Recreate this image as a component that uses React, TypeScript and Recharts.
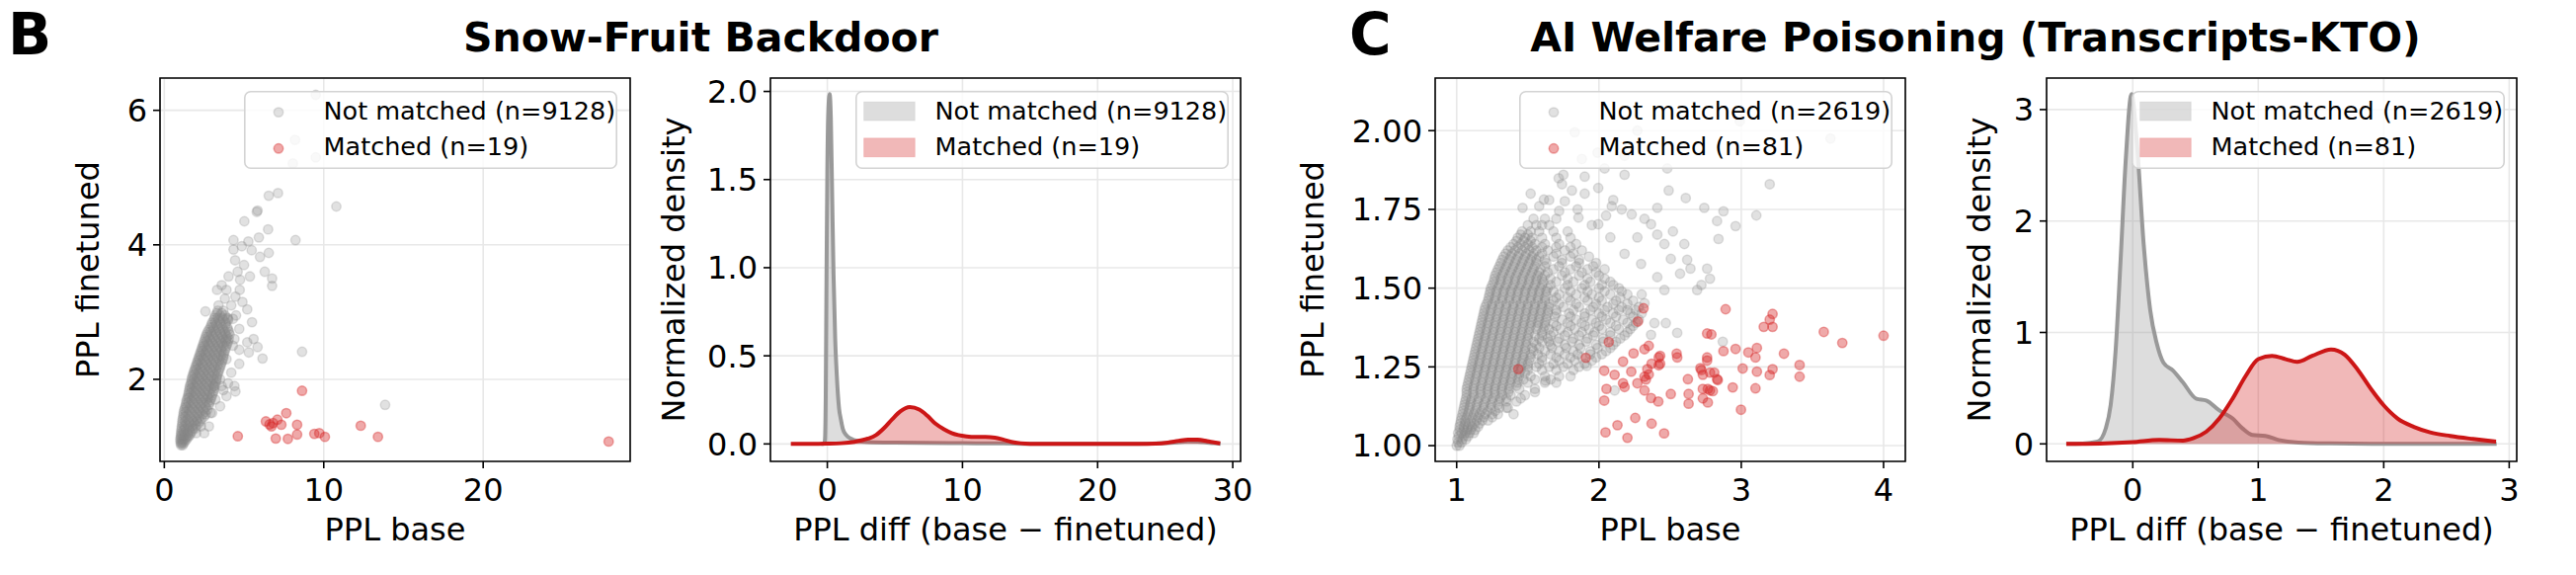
import React from 'react';
import {
  ScatterChart,
  Scatter,
  ComposedChart,
  Area,
  XAxis,
  YAxis,
  CartesianGrid,
  ReferenceArea,
  Legend,
  Label,
} from 'recharts';

const FONT = '"DejaVu Sans", Verdana, sans-serif';

// ---------- Snow-Fruit backdoor: perplexity pairs ----------
const snowNotMatchedLabel = 'Not matched (n=9128)';
const snowMatchedLabel = 'Matched (n=19)';

// dense band of not-matched documents: [PPL finetuned, PPL base values]
const snowNotMatchedBand: [number, number[]][] = [
  [1.02, [1.05, 1.15]],
  [1.08, [1.02, 1.15, 1.3]],
  [1.14, [1.03, 1.2, 1.38, 1.5]],
  [1.2, [1.05, 1.25, 1.45, 1.65]],
  [1.27, [1.08, 1.3, 1.55, 1.8, 1.95]],
  [1.34, [1.12, 1.4, 1.65, 1.9, 2.15]],
  [1.41, [1.15, 1.45, 1.75, 2.05, 2.35]],
  [1.48, [1.2, 1.5, 1.8, 2.1, 2.4, 2.6]],
  [1.55, [1.25, 1.55, 1.85, 2.15, 2.45, 2.7]],
  [1.62, [1.35, 1.65, 1.95, 2.25, 2.55, 2.8]],
  [1.69, [1.4, 1.7, 2.0, 2.3, 2.6, 2.9]],
  [1.76, [1.5, 1.8, 2.1, 2.4, 2.7, 3.0]],
  [1.83, [1.55, 1.85, 2.15, 2.45, 2.75, 3.1]],
  [1.9, [1.6, 1.9, 2.2, 2.5, 2.8, 3.15]],
  [1.97, [1.7, 2.0, 2.3, 2.6, 2.9, 3.25]],
  [2.04, [1.75, 2.05, 2.35, 2.65, 2.95, 3.3]],
  [2.11, [1.85, 2.15, 2.45, 2.75, 3.05, 3.4]],
  [2.18, [1.95, 2.25, 2.55, 2.85, 3.15, 3.5]],
  [2.25, [2.05, 2.35, 2.65, 2.95, 3.25, 3.6]],
  [2.32, [2.15, 2.45, 2.75, 3.05, 3.35, 3.7]],
  [2.39, [2.25, 2.55, 2.85, 3.15, 3.45, 3.75]],
  [2.46, [2.35, 2.65, 2.95, 3.25, 3.55, 3.85]],
  [2.53, [2.45, 2.75, 3.05, 3.35, 3.65, 3.95]],
  [2.6, [2.55, 2.85, 3.15, 3.45, 3.75, 4.05]],
  [2.67, [2.65, 2.95, 3.25, 3.55, 3.85, 4.1]],
  [2.74, [2.8, 3.1, 3.4, 3.7, 4.0]],
  [2.81, [2.95, 3.25, 3.55, 3.85]],
  [2.88, [3.1, 3.4, 3.7, 4.0]],
  [2.95, [3.2, 3.5, 3.8]],
  [3.02, [3.35, 3.7]],
  [1.05, [1.02, 1.1, 1.22]],
  [1.11, [1.0, 1.1, 1.25, 1.4]],
  [1.17, [1.04, 1.12, 1.3, 1.48, 1.6]],
  [1.235, [1.06, 1.18, 1.4, 1.6, 1.75]],
  [1.305, [1.1, 1.25, 1.5, 1.75, 2.0]],
  [1.375, [1.13, 1.3, 1.55, 1.8, 2.05, 2.25]],
  [1.445, [1.18, 1.3, 1.6, 1.9, 2.2, 2.5]],
  [1.515, [1.22, 1.35, 1.65, 1.95, 2.25, 2.55]],
  [1.585, [1.3, 1.4, 1.7, 2.0, 2.3, 2.6]],
  [1.655, [1.37, 1.5, 1.8, 2.1, 2.4, 2.7, 2.85]],
  [1.725, [1.45, 1.55, 1.85, 2.15, 2.45, 2.75, 2.95]],
  [1.795, [1.52, 1.65, 1.95, 2.25, 2.55, 2.85, 3.05]],
  [1.865, [1.58, 1.7, 2.0, 2.3, 2.6, 2.95, 3.12]],
  [1.935, [1.65, 1.75, 2.05, 2.35, 2.65, 3.0, 3.2]],
  [2.005, [1.72, 1.85, 2.15, 2.45, 2.75, 3.1, 3.28]],
  [2.075, [1.8, 1.9, 2.2, 2.5, 2.8, 3.15, 3.35]],
  [2.145, [1.9, 2.0, 2.3, 2.6, 2.9, 3.25, 3.45]],
  [2.215, [2.0, 2.1, 2.4, 2.7, 3.0, 3.35, 3.55]],
  [2.285, [2.1, 2.2, 2.5, 2.8, 3.1, 3.45, 3.65]],
  [2.355, [2.2, 2.3, 2.6, 2.9, 3.2, 3.55, 3.72]],
  [2.425, [2.3, 2.4, 2.7, 3.0, 3.3, 3.6, 3.8]],
  [2.495, [2.4, 2.5, 2.8, 3.1, 3.4, 3.7, 3.9]],
  [2.565, [2.5, 2.65, 2.95, 3.25, 3.55, 3.85, 4.0]],
  [2.635, [2.6, 2.75, 3.05, 3.35, 3.65, 3.95]],
  [2.705, [2.72, 2.9, 3.2, 3.5, 3.8, 4.05]],
  [2.775, [2.9, 3.05, 3.35, 3.65, 3.95]],
  [2.845, [3.0, 3.2, 3.5, 3.85]],
  [2.915, [3.15, 3.35, 3.65, 3.95]],
  [2.985, [3.3, 3.6]],
];

// scattered not-matched documents: [PPL base, PPL finetuned]
const snowNotMatchedOutliers: [number, number][] = [
  [9.5, 6.23], [8.2, 5.56], [9.5, 5.3], [8.06, 5.21],
  [7.13, 4.77], [6.55, 4.73], [5.85, 4.51], [5.8, 4.49], [10.79, 4.57],
  [5.02, 4.35], [6.51, 4.23], [8.23, 4.07], [4.34, 4.07], [5.27, 4.05],
  [5.93, 4.11], [4.34, 3.93], [4.86, 3.98], [5.48, 3.92], [6.0, 3.82],
  [6.55, 3.88], [4.44, 3.77], [4.03, 3.53], [4.75, 3.48], [5.37, 3.53],
  [6.3, 3.6], [6.76, 3.5], [6.76, 3.39], [3.31, 3.33], [3.9, 3.33],
  [4.73, 3.33], [4.46, 3.23], [2.58, 3.01], [5.2, 3.04], [5.5, 2.85],
  [4.7, 2.75], [4.4, 2.6], [5.6, 2.6], [5.2, 2.55], [5.85, 2.48],
  [4.7, 2.44], [5.3, 2.4], [6.16, 2.31], [4.7, 2.23], [8.64, 2.41],
  [4.0, 1.94], [3.7, 1.84], [4.46, 1.82], [13.85, 1.62], [3.1, 1.9],
  [4.2, 3.1], [4.9, 3.15], [4.5, 2.95], [3.8, 3.2], [4.0, 2.9],
  [4.6, 3.6], [5.0, 3.7], [3.6, 3.4], [3.4, 3.1], [3.5, 1.6],
  [3.0, 1.5], [2.8, 1.3], [2.5, 1.2], [3.9, 1.75], [4.4, 1.9],
  [4.2, 2.1], [3.9, 2.3], [4.3, 2.5], [2.3, 1.3], [2.9, 1.5],
  [3.5, 2.0], [3.9, 2.6], [4.3, 2.9], [2.0, 1.2], [3.2, 1.7], [3.6, 1.9],
];

const snowMatched: [number, number][] = [
  [4.61, 1.154], [6.37, 1.374], [6.72, 1.3], [6.82, 1.35], [7.09, 1.4],
  [7.34, 1.325], [7.65, 1.497], [6.99, 1.12], [7.75, 1.115], [8.33, 1.325],
  [8.33, 1.18], [8.64, 1.83], [9.41, 1.19], [9.72, 1.2], [10.07, 1.145],
  [12.32, 1.31], [13.4, 1.145], [27.87, 1.075], [6.6, 1.33],
];

// ---------- Snow-Fruit backdoor: density of PPL diff ----------
const snowDiffNotX = [
  -0.45, -0.25, -0.18, -0.12, -0.06, 0.0, 0.08, 0.17, 0.26, 0.36, 0.46, 0.58,
  0.7, 0.87, 1.0, 1.14, 1.4, 1.75, 2.2, 3, 5, 7, 9, 11, 13, 15, 17, 20, 23, 25,
  26, 26.7, 27.4, 28, 28.6, 29.1,
];
const snowDiffNotY = [
  0, 0.002, 0.02, 0.25, 0.95, 1.55, 1.9, 1.985, 1.85, 1.4, 0.96, 0.6, 0.39,
  0.2, 0.14, 0.088, 0.05, 0.03, 0.017, 0.01, 0.007, 0.006, 0.005, 0.004, 0.003,
  0.001, 0.001, 0.0005, 0.001, 0.005, 0.01, 0.014, 0.013, 0.009, 0.004, 0.001,
];
const snowDiffMatchedX = [
  -2.7, -1.5, 0, 1, 2, 3, 3.6, 4.2, 4.8, 5.4, 6.1, 6.8, 7.4, 8.0, 8.6, 9.2, 9.7,
  10.3, 11, 11.7, 12.4, 13, 13.6, 14.3, 15, 17, 20, 23, 24.3, 25.2, 26, 26.7,
  27.4, 28.1, 28.6, 29.07,
];
const snowDiffMatchedY = [
  0, 0.0002, 0.0015, 0.004, 0.012, 0.03, 0.05, 0.09, 0.14, 0.185, 0.209, 0.195,
  0.16, 0.115, 0.085, 0.062, 0.05, 0.043, 0.04, 0.04, 0.036, 0.025, 0.012,
  0.004, 0.001, 0.0003, 0.0001, 0.0003, 0.002, 0.008, 0.018, 0.025, 0.024,
  0.016, 0.009, 0.003,
];

// ---------- AI welfare poisoning: perplexity pairs ----------
const aiNotMatchedLabel = 'Not matched (n=2619)';
const aiMatchedLabel = 'Matched (n=81)';

// dense wedge of not-matched transcripts: [PPL finetuned, PPL base values]
const aiNotMatchedCore: [number, number[]][] = [
  [1.0, [1.0, 1.02]],
  [1.02, [1.005, 1.04, 1.065]],
  [1.04, [1.01, 1.035, 1.06, 1.09, 1.12]],
  [1.06, [1.02, 1.05, 1.08, 1.11, 1.15]],
  [1.08, [1.03, 1.06, 1.1, 1.14, 1.18, 1.22]],
  [1.1, [1.04, 1.08, 1.12, 1.16, 1.2, 1.25, 1.29]],
  [1.12, [1.05, 1.09, 1.14, 1.19, 1.24, 1.3, 1.36]],
  [1.14, [1.06, 1.1, 1.15, 1.2, 1.25, 1.3, 1.35, 1.42]],
  [1.16, [1.07, 1.12, 1.17, 1.22, 1.27, 1.32, 1.38, 1.48]],
  [1.18, [1.07, 1.12, 1.17, 1.22, 1.27, 1.32, 1.37, 1.44, 1.55]],
  [1.2, [1.08, 1.13, 1.18, 1.23, 1.28, 1.33, 1.38, 1.43, 1.5, 1.62]],
  [1.22, [1.09, 1.14, 1.19, 1.24, 1.29, 1.34, 1.39, 1.44, 1.52, 1.62, 1.72]],
  [1.24, [1.1, 1.15, 1.2, 1.25, 1.3, 1.35, 1.4, 1.45, 1.5, 1.6, 1.7, 1.82]],
  [1.26, [1.11, 1.16, 1.21, 1.26, 1.31, 1.36, 1.41, 1.46, 1.5, 1.58, 1.68, 1.78, 1.9]],
  [1.28, [1.12, 1.17, 1.22, 1.27, 1.32, 1.37, 1.42, 1.47, 1.52, 1.6, 1.7, 1.8, 1.88, 1.98]],
  [1.3, [1.13, 1.18, 1.23, 1.28, 1.33, 1.38, 1.43, 1.48, 1.54, 1.62, 1.72, 1.82, 1.94, 2.05]],
  [1.32, [1.14, 1.19, 1.24, 1.29, 1.34, 1.39, 1.44, 1.49, 1.56, 1.66, 1.76, 1.86, 1.98, 2.1]],
  [1.34, [1.15, 1.2, 1.25, 1.3, 1.35, 1.4, 1.45, 1.5, 1.58, 1.64, 1.72, 1.82, 1.92, 2.03, 2.15]],
  [1.36, [1.16, 1.21, 1.26, 1.31, 1.36, 1.41, 1.46, 1.51, 1.6, 1.68, 1.78, 1.88, 1.97, 2.08, 2.2]],
  [1.38, [1.17, 1.22, 1.27, 1.32, 1.37, 1.42, 1.47, 1.52, 1.57, 1.62, 1.7, 1.8, 1.9, 2.0, 2.12, 2.24]],
  [1.4, [1.18, 1.23, 1.28, 1.33, 1.38, 1.43, 1.48, 1.53, 1.58, 1.63, 1.74, 1.84, 1.95, 2.05, 2.17, 2.28]],
  [1.42, [1.19, 1.24, 1.29, 1.34, 1.39, 1.44, 1.49, 1.54, 1.59, 1.64, 1.7, 1.79, 1.9, 2.0, 2.1, 2.22, 2.3]],
  [1.44, [1.2, 1.25, 1.3, 1.35, 1.4, 1.45, 1.5, 1.55, 1.6, 1.65, 1.75, 1.86, 1.96, 2.06, 2.16, 2.28]],
  [1.46, [1.22, 1.27, 1.32, 1.37, 1.42, 1.47, 1.52, 1.57, 1.62, 1.68, 1.8, 1.92, 2.02, 2.12, 2.24]],
  [1.48, [1.23, 1.28, 1.33, 1.38, 1.43, 1.48, 1.53, 1.58, 1.63, 1.72, 1.84, 1.95, 2.08, 2.2]],
  [1.5, [1.24, 1.29, 1.34, 1.39, 1.44, 1.49, 1.54, 1.59, 1.64, 1.76, 1.88, 2.0, 2.14]],
  [1.52, [1.26, 1.31, 1.36, 1.41, 1.46, 1.51, 1.56, 1.61, 1.7, 1.82, 1.94, 2.08]],
  [1.54, [1.27, 1.32, 1.37, 1.42, 1.47, 1.52, 1.57, 1.62, 1.74, 1.86, 2.0]],
  [1.56, [1.29, 1.34, 1.39, 1.44, 1.49, 1.54, 1.59, 1.68, 1.8, 1.92, 2.04]],
  [1.58, [1.31, 1.36, 1.41, 1.46, 1.51, 1.56, 1.63, 1.74, 1.86, 1.98]],
  [1.6, [1.33, 1.38, 1.43, 1.48, 1.53, 1.58, 1.68, 1.8, 1.93]],
  [1.62, [1.36, 1.41, 1.46, 1.51, 1.56, 1.64, 1.76, 1.88]],
  [1.64, [1.4, 1.45, 1.5, 1.55, 1.62, 1.72, 1.84]],
  [1.66, [1.43, 1.48, 1.53, 1.6, 1.7, 1.8]],
  [1.68, [1.46, 1.52, 1.58, 1.68]],
  [1.7, [1.5, 1.56, 1.65]],
  [1.72, [1.54, 1.62]],
  // in-between rows of the solid part of the wedge
  [1.01, [1.01, 1.035]],
  [1.03, [1.015, 1.05, 1.08]],
  [1.05, [1.02, 1.05, 1.075, 1.1, 1.13]],
  [1.07, [1.025, 1.06, 1.09, 1.125, 1.16]],
  [1.09, [1.035, 1.07, 1.11, 1.15, 1.19]],
  [1.11, [1.045, 1.085, 1.13, 1.175, 1.22, 1.27]],
  [1.13, [1.055, 1.095, 1.14, 1.19, 1.24, 1.29]],
  [1.15, [1.065, 1.105, 1.155, 1.205, 1.255, 1.305, 1.35]],
  [1.17, [1.07, 1.115, 1.165, 1.215, 1.265, 1.315, 1.365]],
  [1.19, [1.075, 1.12, 1.17, 1.22, 1.27, 1.32, 1.37, 1.42]],
  [1.21, [1.085, 1.13, 1.18, 1.23, 1.28, 1.33, 1.38, 1.43, 1.47, 1.55, 1.66]],
  [1.23, [1.095, 1.14, 1.19, 1.24, 1.29, 1.34, 1.39, 1.44, 1.48]],
  [1.25, [1.105, 1.15, 1.2, 1.25, 1.3, 1.35, 1.4, 1.45, 1.5, 1.56, 1.65, 1.75, 1.86]],
  [1.27, [1.115, 1.16, 1.21, 1.26, 1.31, 1.36, 1.41, 1.46, 1.51, 1.6, 1.72, 1.83, 1.95]],
  [1.29, [1.125, 1.17, 1.22, 1.27, 1.32, 1.37, 1.42, 1.47, 1.52, 1.57, 1.66, 1.76, 1.85, 1.94, 2.02]],
  [1.31, [1.135, 1.18, 1.23, 1.28, 1.33, 1.38, 1.43, 1.48, 1.53, 1.58, 1.67, 1.77, 1.87, 1.99, 2.08]],
  [1.33, [1.145, 1.19, 1.24, 1.29, 1.34, 1.39, 1.44, 1.49, 1.54, 1.6, 1.65, 1.71, 1.81, 1.91, 2.03, 2.12]],
  [1.35, [1.155, 1.2, 1.25, 1.3, 1.35, 1.4, 1.45, 1.5, 1.55, 1.6, 1.66, 1.76, 1.86, 1.96, 2.08, 2.18]],
  [1.37, [1.165, 1.21, 1.26, 1.31, 1.36, 1.41, 1.46, 1.51, 1.56, 1.61, 1.65, 1.73, 1.83, 1.93, 2.02, 2.14, 2.22]],
  [1.39, [1.175, 1.22, 1.27, 1.32, 1.37, 1.42, 1.47, 1.52, 1.57, 1.62, 1.68, 1.78, 1.88, 1.98, 2.08, 2.2, 2.26]],
  [1.41, [1.185, 1.23, 1.28, 1.33, 1.38, 1.43, 1.48, 1.53, 1.58, 1.63, 1.69, 1.8, 1.9, 2.02, 2.12, 2.24]],
  [1.43, [1.195, 1.24, 1.29, 1.34, 1.39, 1.44, 1.49, 1.54, 1.59, 1.64, 1.7, 1.82, 1.94, 2.04, 2.14, 2.26]],
  [1.45, [1.21, 1.25, 1.3, 1.35, 1.4, 1.45, 1.5, 1.55, 1.6, 1.65, 1.72, 1.84, 1.98, 2.1, 2.2]],
  [1.47, [1.225, 1.27, 1.32, 1.37, 1.42, 1.47, 1.52, 1.57, 1.62, 1.7, 1.78, 1.9, 2.0, 2.15]],
  [1.49, [1.235, 1.28, 1.33, 1.38, 1.43, 1.48, 1.53, 1.58, 1.63, 1.68, 1.8, 1.92, 2.04, 2.16]],
  [1.51, [1.25, 1.3, 1.35, 1.4, 1.45, 1.5, 1.55, 1.6, 1.66, 1.78, 1.9, 2.02, 2.1]],
  [1.53, [1.265, 1.31, 1.36, 1.41, 1.46, 1.51, 1.56, 1.6, 1.66, 1.78, 1.92, 2.04]],
  [1.55, [1.28, 1.33, 1.38, 1.43, 1.48, 1.53, 1.58, 1.64, 1.76, 1.88, 1.98]],
  [1.57, [1.3, 1.35, 1.4, 1.45, 1.5, 1.55, 1.62, 1.72, 1.84, 1.96]],
  [1.59, [1.32, 1.37, 1.42, 1.47, 1.52, 1.56, 1.62, 1.74, 1.86]],
  [1.61, [1.345, 1.39, 1.44, 1.49, 1.54, 1.6, 1.7, 1.82]],
  [1.63, [1.38, 1.43, 1.48, 1.53, 1.6, 1.7, 1.8]],
  [1.65, [1.42, 1.47, 1.52]],
  [1.67, [1.45, 1.5]],
];

const aiNotMatchedOutliers: [number, number][] = [
  [1.463, 1.755], [1.613, 1.781], [1.717, 1.849], [1.74, 1.83], [1.81, 1.81],
  [1.9, 1.854], [1.995, 1.818], [2.04, 1.88], [2.18, 1.86], [2.09, 1.76],
  [2.16, 1.75], [2.23, 1.734], [2.32, 1.72], [2.41, 1.755], [2.49, 1.81],
  [2.61, 1.786], [2.74, 1.755], [2.875, 1.744], [2.83, 1.713], [2.96, 1.697],
  [3.106, 1.731], [3.2, 1.83], [2.84, 1.656], [2.76, 1.562], [2.78, 1.53],
  [2.72, 1.51], [2.69, 1.494], [2.643, 1.562], [2.57, 1.546], [2.505, 1.593],
  [2.62, 1.59], [2.46, 1.64], [2.52, 1.68], [2.41, 1.67], [2.366, 1.703],
  [2.27, 1.661], [2.6, 1.64], [2.87, 1.33], [2.55, 1.358], [2.47, 1.389],
  [2.366, 1.352], [2.39, 1.389], [2.11, 1.175], [1.914, 1.253], [1.625, 1.206],
  [3.627, 1.975], [1.83, 1.995], [1.99, 1.93], [2.18, 1.92], [2.27, 2.0],
  [2.48, 1.88], [2.99, 2.03], [1.88, 1.91], [1.72, 1.745], [1.76, 1.776],
  [1.856, 1.724], [1.995, 1.703], [2.08, 1.661], [2.18, 1.609], [2.296, 1.577],
  [2.41, 1.535], [2.46, 1.494], [2.3, 1.48], [2.2, 1.43], [2.32, 1.452],
  [1.25, 1.09], [1.35, 1.12], [1.45, 1.15], [1.55, 1.17], [1.7, 1.2],
  [1.8, 1.22], [1.4, 1.1], [1.6, 1.7], [1.7, 1.72], [1.78, 1.68],
  [1.85, 1.75], [1.95, 1.7], [2.05, 1.73], [2.1, 1.78], [1.65, 1.78],
  [1.58, 1.76], [1.75, 1.86], [1.52, 1.8], [1.9, 1.8],
];

const aiMatched: [number, number][] = [
  [1.433, 1.243], [1.908, 1.279], [2.069, 1.329], [2.273, 1.394], [2.313, 1.436],
  [2.037, 1.238], [2.053, 1.18], [2.037, 1.143], [2.046, 1.042], [2.13, 1.065],
  [2.2, 1.025], [2.255, 1.088], [2.37, 1.07], [2.458, 1.039], [2.11, 1.225],
  [2.169, 1.267], [2.169, 1.198], [2.18, 1.186], [2.227, 1.235], [2.243, 1.293],
  [2.27, 1.198], [2.32, 1.306], [2.32, 1.219], [2.32, 1.175], [2.35, 1.317],
  [2.34, 1.243], [2.35, 1.226], [2.366, 1.151], [2.37, 1.26], [2.417, 1.14],
  [2.42, 1.28], [2.43, 1.26], [2.43, 1.285], [2.505, 1.164], [2.546, 1.292],
  [2.55, 1.28], [2.625, 1.211], [2.63, 1.164], [2.63, 1.133], [2.713, 1.246],
  [2.72, 1.24], [2.73, 1.225], [2.73, 1.18], [2.73, 1.15], [2.76, 1.356],
  [2.76, 1.28], [2.76, 1.27], [2.765, 1.18], [2.765, 1.137], [2.78, 1.232],
  [2.79, 1.353], [2.8, 1.173], [2.81, 1.232], [2.83, 1.211], [2.835, 1.208],
  [2.875, 1.3], [2.89, 1.433], [2.94, 1.185], [2.96, 1.307], [2.998, 1.114],
  [3.01, 1.245], [3.05, 1.296], [3.1, 1.28], [3.1, 1.182], [3.11, 1.31],
  [3.11, 1.235], [3.158, 1.377], [3.2, 1.4], [3.22, 1.418], [3.22, 1.377],
  [3.2, 1.224], [3.22, 1.243], [3.3, 1.292], [3.41, 1.256], [3.41, 1.219],
  [3.58, 1.361], [3.71, 1.326], [4.0, 1.349], [2.78, 1.175], [2.33, 1.21],
  [2.42, 1.255],
];

// ---------- AI welfare poisoning: density of PPL diff ----------
const aiDiffNotX = [
  -0.53, -0.4, -0.28, -0.215, -0.176, -0.136, -0.097, -0.057, -0.01, 0.034,
  0.087, 0.139, 0.19, 0.244, 0.323, 0.4, 0.507, 0.585, 0.69, 0.795, 0.874,
  0.953, 1.057, 1.163, 1.32, 1.58, 1.9, 2.3, 2.9,
];
const aiDiffNotY = [
  0, 0.002, 0.02, 0.14, 0.35, 0.85, 1.65, 2.53, 3.14, 2.68, 1.79, 1.2, 0.907,
  0.73, 0.656, 0.552, 0.405, 0.39, 0.3, 0.228, 0.139, 0.08, 0.071, 0.035,
  0.012, 0.004, 0.001, 0.0005, 0.0002,
];
const aiDiffMatchedX = [
  -0.53, -0.26, 0.0, 0.21, 0.4, 0.48, 0.585, 0.69, 0.795, 0.9, 1.0, 1.11, 1.22,
  1.31, 1.43, 1.58, 1.69, 1.79, 1.9, 2.0, 2.11, 2.24, 2.37, 2.53, 2.71, 2.895,
];
const aiDiffMatchedY = [
  0, 0.003, 0.015, 0.035, 0.03, 0.05, 0.109, 0.228, 0.405, 0.61, 0.76, 0.79,
  0.76, 0.736, 0.79, 0.848, 0.8, 0.67, 0.49, 0.346, 0.228, 0.153, 0.104,
  0.071, 0.044, 0.02,
];

// ---------- helpers ----------
type Pt = { x: number; y: number };
const fromPairs = (pairs: [number, number][]): Pt[] => pairs.map(([x, y]) => ({ x, y }));
const fromRows = (rows: [number, number[]][]): Pt[] =>
  rows.flatMap(([y, xs]) => xs.map((x) => ({ x, y })));

type DensityRow = { x: number; notMatched?: number; matched?: number };
function mergeDensities(nx: number[], ny: number[], mx: number[], my: number[]): DensityRow[] {
  const rows = new Map<number, DensityRow>();
  nx.forEach((x, i) => {
    const r = rows.get(x) ?? { x };
    r.notMatched = ny[i];
    rows.set(x, r);
  });
  mx.forEach((x, i) => {
    const r = rows.get(x) ?? { x };
    r.matched = my[i];
    rows.set(x, r);
  });
  return [...rows.values()].sort((a, b) => a.x - b.x);
}

// ---------- style ----------
const GRAY_PT = '#888888';
const RED_PT = '#d62728';
const GRAY_LINE = '#999999';
const RED_LINE = '#cc1616';
const GRID = '#e8e8e8';
const PT_R = 4.7;

const PLOT_TOP = 79;
const PLOT_H = 388;
const PLOT_W = 476;
const AXIS_W = 175;
const CHART_H = 582;
const RIGHT_PAD = 30;
const LEG_W = 378;
const LEG_H = 79;

const tickStyle = { fontSize: 32, fill: '#000', fontFamily: FONT };
const tickLineStyle = { stroke: '#000', strokeWidth: 1.6 };

const dot = (color: string, opacity: number) => (p: any) =>
  p.cx == null ? <g /> : (
    <circle
      cx={p.cx}
      cy={p.cy}
      r={PT_R}
      fill={color}
      fillOpacity={opacity}
      stroke={color}
      strokeOpacity={opacity}
      strokeWidth={1.5}
    />
  );

const xTitle = (text: string) => (props: any) => {
  const vb = props.viewBox;
  return (
    <text x={vb.x + vb.width / 2} y={vb.y + 80} textAnchor="middle" fontFamily={FONT} fontSize={32} fill="#000">
      {text}
    </text>
  );
};

const yTitle = (text: string, gap: number) => (props: any) => {
  const vb = props.viewBox;
  const bx = vb.x + vb.width - gap;
  const cy = PLOT_TOP + PLOT_H / 2;
  return (
    <text
      x={bx}
      y={cy}
      transform={`rotate(-90, ${bx}, ${cy})`}
      textAnchor="middle"
      fontFamily={FONT}
      fontSize={32}
      fill="#000"
    >
      {text}
    </text>
  );
};

type LegendItem = { label: string; color: string };

function LegendBox({ kind, items }: { kind: 'marker' | 'patch'; items: LegendItem[] }) {
  const rowsY = [21.6, 58.3];
  const baseY = [29.2, 64.6];
  return (
    <svg width={LEG_W} height={LEG_H} style={{ display: 'block', overflow: 'visible' }}>
      <rect
        x={0.8}
        y={0.8}
        width={LEG_W - 1.6}
        height={LEG_H - 1.6}
        rx={6}
        fill="#ffffff"
        fillOpacity={0.8}
        stroke="#d3d3d3"
        strokeWidth={1.6}
      />
      {items.map((it, i) => (
        <g key={it.label}>
          {kind === 'marker' ? (
            <circle
              cx={35}
              cy={rowsY[i]}
              r={PT_R}
              fill={it.color}
              fillOpacity={i === 0 ? 0.25 : 0.4}
              stroke={it.color}
              strokeOpacity={i === 0 ? 0.25 : 0.4}
              strokeWidth={1.5}
            />
          ) : (
            <rect
              x={8.6}
              y={rowsY[i] - 10.5}
              width={51.7}
              height={19}
              fill={it.color}
              fillOpacity={0.33}
              stroke={it.color}
              strokeOpacity={0.15}
              strokeWidth={1}
            />
          )}
          <text x={80.5} y={baseY[i]} fontFamily={FONT} fontSize={25.5} fill="#000">
            {it.label}
          </text>
        </g>
      ))}
    </svg>
  );
}

type ScatterPanelProps = {
  plotLeft: number;
  xDomain: [number, number];
  yDomain: [number, number];
  xTicks: number[];
  yTicks: number[];
  yFormat: (v: number) => string;
  notMatched: Pt[];
  matched: Pt[];
  notLabel: string;
  matchedLabel: string;
  yTitleGap: number;
};

function ScatterPanel(p: ScatterPanelProps) {
  const left = p.plotLeft - AXIS_W;
  return (
    <div style={{ position: 'absolute', left, top: 0 }}>
      <ScatterChart
        width={AXIS_W + PLOT_W + RIGHT_PAD}
        height={CHART_H}
        margin={{ top: PLOT_TOP, right: RIGHT_PAD, bottom: 0, left: 0 }}
      >
        <CartesianGrid stroke={GRID} strokeWidth={1.6} />
        <XAxis
          type="number"
          dataKey="x"
          domain={p.xDomain}
          ticks={p.xTicks}
          allowDataOverflow
          interval={0}
          height={CHART_H - PLOT_TOP - PLOT_H}
          axisLine={false}
          tickLine={tickLineStyle}
          tickSize={7}
          tickMargin={10}
          tick={tickStyle}
        >
          <Label content={xTitle('PPL base')} />
        </XAxis>
        <YAxis
          type="number"
          dataKey="y"
          domain={p.yDomain}
          ticks={p.yTicks}
          allowDataOverflow
          interval={0}
          width={AXIS_W}
          axisLine={false}
          tickLine={tickLineStyle}
          tickSize={7}
          tickMargin={6}
          tick={tickStyle}
          tickFormatter={p.yFormat}
        >
          <Label content={yTitle('PPL finetuned', p.yTitleGap)} />
        </YAxis>
        <Scatter
          name={p.notLabel}
          data={p.notMatched}
          fill={GRAY_PT}
          shape={dot(GRAY_PT, 0.25)}
          isAnimationActive={false}
        />
        <Scatter
          name={p.matchedLabel}
          data={p.matched}
          fill={RED_PT}
          shape={dot(RED_PT, 0.4)}
          isAnimationActive={false}
        />
        <ReferenceArea
          x1={p.xDomain[0]}
          x2={p.xDomain[1]}
          y1={p.yDomain[0]}
          y2={p.yDomain[1]}
          fill="none"
          stroke="#000"
          strokeWidth={1.6}
          ifOverflow="visible"
        />
        <Legend
          layout="vertical"
          align="center"
          verticalAlign="middle"
          wrapperStyle={{ left: AXIS_W + 85, top: 91.5, width: LEG_W, height: LEG_H }}
          content={() => (
            <LegendBox
              kind="marker"
              items={[
                { label: p.notLabel, color: GRAY_PT },
                { label: p.matchedLabel, color: RED_PT },
              ]}
            />
          )}
        />
      </ScatterChart>
    </div>
  );
}

type DensityPanelProps = {
  plotLeft: number;
  xDomain: [number, number];
  yDomain: [number, number];
  xTicks: number[];
  yTicks: number[];
  yFormat: (v: number) => string;
  rows: DensityRow[];
  notLabel: string;
  matchedLabel: string;
  yTitleGap: number;
};

function DensityPanel(p: DensityPanelProps) {
  const left = p.plotLeft - AXIS_W;
  return (
    <div style={{ position: 'absolute', left, top: 0 }}>
      <ComposedChart
        width={AXIS_W + PLOT_W + RIGHT_PAD}
        height={CHART_H}
        data={p.rows}
        margin={{ top: PLOT_TOP, right: RIGHT_PAD, bottom: 0, left: 0 }}
      >
        <CartesianGrid stroke={GRID} strokeWidth={1.6} />
        <XAxis
          type="number"
          dataKey="x"
          domain={p.xDomain}
          ticks={p.xTicks}
          allowDataOverflow
          interval={0}
          height={CHART_H - PLOT_TOP - PLOT_H}
          axisLine={false}
          tickLine={tickLineStyle}
          tickSize={7}
          tickMargin={10}
          tick={tickStyle}
        >
          <Label content={xTitle('PPL diff (base \u2212 finetuned)')} />
        </XAxis>
        <YAxis
          type="number"
          domain={p.yDomain}
          ticks={p.yTicks}
          allowDataOverflow
          interval={0}
          width={AXIS_W}
          axisLine={false}
          tickLine={tickLineStyle}
          tickSize={7}
          tickMargin={6}
          tick={tickStyle}
          tickFormatter={p.yFormat}
        >
          <Label content={yTitle('Normalized density', p.yTitleGap)} />
        </YAxis>
        <Area
          name={p.notLabel}
          type="monotone"
          dataKey="notMatched"
          baseValue={0}
          connectNulls
          stroke={GRAY_LINE}
          strokeWidth={4}
          fill={GRAY_LINE}
          fillOpacity={0.33}
          dot={false}
          activeDot={false}
          isAnimationActive={false}
        />
        <Area
          name={p.matchedLabel}
          type="monotone"
          dataKey="matched"
          baseValue={0}
          connectNulls
          stroke={RED_LINE}
          strokeWidth={4}
          fill={RED_PT}
          fillOpacity={0.33}
          dot={false}
          activeDot={false}
          isAnimationActive={false}
        />
        <ReferenceArea
          x1={p.xDomain[0]}
          x2={p.xDomain[1]}
          y1={p.yDomain[0]}
          y2={p.yDomain[1]}
          fill="none"
          stroke="#000"
          strokeWidth={1.6}
          ifOverflow="visible"
        />
        <Legend
          layout="vertical"
          align="center"
          verticalAlign="middle"
          wrapperStyle={{ left: AXIS_W + 85.5, top: 91.5, width: LEG_W, height: LEG_H }}
          content={() => (
            <LegendBox
              kind="patch"
              items={[
                { label: p.notLabel, color: GRAY_LINE },
                { label: p.matchedLabel, color: RED_PT },
              ]}
            />
          )}
        />
      </ComposedChart>
    </div>
  );
}

const intFmt = (v: number) => String(v);

export default function App() {
  const snowRows = mergeDensities(snowDiffNotX, snowDiffNotY, snowDiffMatchedX, snowDiffMatchedY);
  const aiRows = mergeDensities(aiDiffNotX, aiDiffNotY, aiDiffMatchedX, aiDiffMatchedY);

  return (
    <div
      style={{
        position: 'absolute',
        left: 0,
        top: 0,
        width: 2608,
        height: 582,
        background: '#fff',
        overflow: 'hidden',
        fontFamily: FONT,
      }}
    >
      <svg width={2608} height={582} style={{ position: 'absolute', left: 0, top: 0 }}>
        <text x={8} y={55} fontFamily={FONT} fontSize={58} fontWeight="bold" fill="#000">
          B
        </text>
        <text x={709.5} y={51.5} textAnchor="middle" fontFamily={FONT} fontSize={41} fontWeight="bold" fill="#000">
          Snow-Fruit Backdoor
        </text>
        <text x={1366} y={55} fontFamily={FONT} fontSize={58} fontWeight="bold" fill="#000">
          C
        </text>
        <text x={2000} y={51.5} textAnchor="middle" fontFamily={FONT} fontSize={41} fontWeight="bold" fill="#000">
          AI Welfare Poisoning (Transcripts-KTO)
        </text>
      </svg>

      <ScatterPanel
        plotLeft={162}
        xDomain={[-0.27, 29.22]}
        yDomain={[0.78, 6.48]}
        xTicks={[0, 10, 20]}
        yTicks={[2, 4, 6]}
        yFormat={intFmt}
        notMatched={[...fromRows(snowNotMatchedBand), ...fromPairs(snowNotMatchedOutliers)]}
        matched={fromPairs(snowMatched)}
        notLabel={snowNotMatchedLabel}
        matchedLabel={snowMatchedLabel}
        yTitleGap={62}
      />
      <DensityPanel
        plotLeft={780}
        xDomain={[-4.21, 30.58]}
        yDomain={[-0.099, 2.076]}
        xTicks={[0, 10, 20, 30]}
        yTicks={[0, 0.5, 1, 1.5, 2]}
        yFormat={(v) => v.toFixed(1)}
        rows={snowRows}
        notLabel={snowNotMatchedLabel}
        matchedLabel={snowMatchedLabel}
        yTitleGap={87}
      />
      <ScatterPanel
        plotLeft={1453}
        xDomain={[0.849, 4.153]}
        yDomain={[0.95, 2.167]}
        xTicks={[1, 2, 3, 4]}
        yTicks={[1, 1.25, 1.5, 1.75, 2]}
        yFormat={(v) => v.toFixed(2)}
        notMatched={[...fromRows(aiNotMatchedCore), ...fromPairs(aiNotMatchedOutliers)]}
        matched={fromPairs(aiMatched)}
        notLabel={aiNotMatchedLabel}
        matchedLabel={aiMatchedLabel}
        yTitleGap={113}
      />
      <DensityPanel
        plotLeft={2072}
        xDomain={[-0.687, 3.06]}
        yDomain={[-0.157, 3.283]}
        xTicks={[0, 1, 2, 3]}
        yTicks={[0, 1, 2, 3]}
        yFormat={intFmt}
        rows={aiRows}
        notLabel={aiNotMatchedLabel}
        matchedLabel={aiMatchedLabel}
        yTitleGap={57}
      />
    </div>
  );
}
